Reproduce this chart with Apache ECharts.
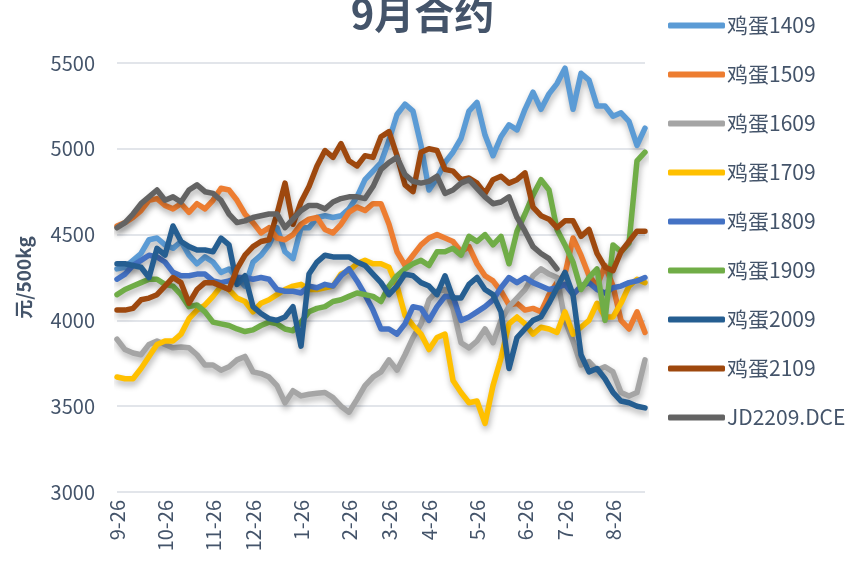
<!DOCTYPE html>
<html>
<head>
<meta charset="utf-8">
<script src="https://cdn.jsdelivr.net/npm/echarts@6/dist/echarts.min.js"></script>
<style>html,body{margin:0;padding:0;background:#fff;}#c{width:845px;height:565px;}</style>
</head>
<body>
<div id="c"></div>
<script>
const dates = ["9-26","10-1","10-6","10-11","10-16","10-21","10-26","11-1","11-6","11-11","11-16","11-21","11-26","12-2","12-8","12-14","12-20","12-26","12-31","1-6","1-11","1-16","1-21","1-26","1-31","2-5","2-10","2-15","2-20","2-26","3-2","3-8","3-14","3-20","3-26","4-1","4-7","4-13","4-19","4-26","5-1","5-6","5-11","5-16","5-21","5-26","5-31","6-5","6-10","6-15","6-20","6-26","7-2","7-8","7-14","7-20","7-26","7-31","8-5","8-10","8-15","8-20","8-26","8-31","9-5","9-10","9-15"];
const tickLabels = ["9-26","10-26","11-26","12-26","1-26","2-26","3-26","4-26","5-26","6-26","7-26","8-26"];
const seriesNames = ["鸡蛋1409","鸡蛋1509","鸡蛋1609","鸡蛋1709","鸡蛋1809","鸡蛋1909","鸡蛋2009","鸡蛋2109","JD2209.DCE"];
const colors = ["#5B9BD5","#ED7D31","#A5A5A5","#FFC000","#4472C4","#70AD47","#255E91","#9E480E","#636363"];

const jd1409 = [4300,4310,4350,4390,4470,4480,4440,4420,4460,4380,4330,4370,4340,4280,4300,4250,4200,4340,4380,4440,4540,4400,4360,4540,4540,4600,4610,4600,4610,4650,4720,4820,4870,4920,5050,5200,5260,5220,5020,4760,4830,4920,4980,5060,5220,5270,5080,4960,5070,5140,5110,5230,5330,5230,5320,5380,5470,5230,5440,5400,5250,5250,5190,5210,5160,5020,5120];
const jd1509 = [4550,4570,4600,4640,4700,4710,4670,4650,4680,4630,4680,4650,4700,4770,4760,4700,4620,4570,4510,4540,4480,4470,4500,4560,4590,4600,4530,4510,4560,4630,4660,4640,4680,4680,4560,4400,4320,4380,4440,4480,4500,4480,4460,4400,4430,4330,4260,4230,4170,4090,4100,4060,4070,4050,4150,4220,4270,4480,4380,4260,4200,4320,4200,4000,3950,4050,3930];
const jd1609 = [3890,3830,3810,3800,3860,3880,3860,3840,3845,3840,3800,3740,3740,3710,3730,3770,3790,3700,3690,3670,3620,3520,3590,3560,3570,3575,3580,3550,3500,3465,3540,3620,3670,3700,3770,3710,3800,3900,3980,4120,4170,4180,4070,3870,3840,3880,3950,3870,4000,4080,4130,4180,4260,4300,4270,4250,4000,3880,3740,3760,3710,3730,3700,3580,3560,3580,3770];
const jd1709 = [3670,3660,3660,3720,3790,3860,3880,3880,3920,4010,4060,4090,4140,4200,4180,4130,4110,4050,4100,4120,4150,4180,4200,4210,4180,4180,4190,4200,4270,4290,4330,4350,4330,4330,4310,4200,4030,3970,3920,3830,3900,3920,3650,3580,3520,3530,3400,3620,3780,3980,4020,3980,3920,3960,3950,3930,4050,3920,3960,4000,4100,4020,4020,4100,4200,4240,4220];
const jd1809 = [4240,4270,4320,4350,4380,4370,4340,4280,4260,4260,4270,4270,4230,4220,4230,4250,4250,4240,4250,4240,4180,4170,4170,4160,4200,4190,4210,4200,4260,4300,4230,4150,4060,3950,3950,3920,3980,4080,4070,4000,4080,4140,4140,4000,4020,4050,4080,4120,4190,4250,4220,4250,4220,4200,4180,4190,4210,4150,4200,4220,4180,4160,4190,4200,4220,4230,4250];
const jd1909 = [4150,4180,4200,4220,4240,4240,4210,4200,4150,4080,4090,4050,3990,3980,3970,3950,3935,3945,3970,3990,3980,3950,3940,3990,4050,4070,4080,4110,4120,4140,4160,4150,4140,4110,4200,4260,4300,4330,4350,4320,4400,4400,4420,4380,4490,4460,4500,4440,4490,4330,4520,4620,4730,4820,4760,4530,4440,4340,4180,4250,4300,4000,4440,4400,4450,4930,4980];
const jd2009 = [4330,4330,4320,4310,4250,4420,4380,4550,4460,4430,4410,4410,4400,4480,4440,4210,4260,4080,4040,4010,4000,4020,4080,3850,4270,4340,4380,4370,4370,4370,4340,4320,4270,4220,4150,4200,4270,4260,4220,4200,4150,4260,4130,4130,4210,4250,4180,4150,4050,3720,3900,3950,4000,4020,4100,4190,4280,4150,3800,3700,3720,3660,3580,3530,3520,3500,3490];
const jd2109 = [4060,4060,4070,4120,4130,4150,4200,4250,4220,4100,4180,4220,4220,4200,4180,4300,4380,4430,4460,4470,4620,4800,4560,4690,4780,4900,4990,4950,5030,4930,4900,4960,4950,5070,5100,4960,4790,4750,4980,5000,4990,4880,4870,4820,4830,4800,4740,4820,4840,4800,4820,4860,4660,4610,4590,4540,4580,4580,4490,4530,4390,4310,4290,4400,4460,4520,4520];
const jd2209 = [4540,4570,4620,4680,4720,4760,4700,4720,4690,4760,4790,4750,4740,4700,4620,4570,4580,4600,4610,4620,4620,4540,4590,4640,4670,4670,4650,4690,4710,4720,4720,4710,4780,4880,4920,4950,4850,4810,4800,4810,4840,4740,4760,4800,4820,4770,4720,4680,4690,4720,4600,4520,4430,4390,4360,4300];

const allData = [jd1409,jd1509,jd1609,jd1709,jd1809,jd1909,jd2009,jd2109,jd2209];
const txt = '#44546A';
const font = '"Noto Sans CJK SC","Noto Sans",sans-serif';

const chart = echarts.init(document.getElementById('c'), null, {renderer:'canvas'});
chart.setOption({
  animation: false,
  backgroundColor: '#fff',
  textStyle: {fontFamily: font},
  title: {
    text: '9月合约', left: 'center', top: -11,
    textStyle: {fontSize: 40, fontWeight: 'bold', color: txt, fontFamily: font}
  },
  legend: {
    orient: 'vertical', left: 663, top: 10, itemGap: 28,
    itemWidth: 57, itemHeight: 6, icon: 'roundRect',
    textStyle: {fontSize: 21, color: txt, fontFamily: font, padding: [0,0,0,-3]},
    data: seriesNames
  },
  grid: {left: 117, right: 200, top: 63, bottom: 73, containLabel: false},
  xAxis: {
    type: 'category', data: dates, boundaryGap: false,
    axisLine: {show: false}, axisTick: {show: false},
    splitLine: {show: false},
    axisLabel: {
      rotate: 90, margin: 8, fontSize: 20, color: txt, fontFamily: font,
      interval: (i, v) => tickLabels.includes(v)
    }
  },
  yAxis: {
    type: 'value', min: 3000, max: 5500, interval: 500,
    name: '元/500kg', nameLocation: 'middle', nameGap: 84, nameRotate: 90,
    nameTextStyle: {fontSize: 19, fontWeight: 'bold', color: txt, fontFamily: font},
    axisLine: {show: false}, axisTick: {show: false},
    axisLabel: {fontSize: 20, color: txt, margin: 22, fontFamily: font, formatter: v => String(v)},
    splitLine: {lineStyle: {color: '#D9DDE3', width: 1.5}}
  },
  series: seriesNames.map((n, k) => ({
    name: n, type: 'line', data: allData[k], showSymbol: false, symbol: 'none',
    color: colors[k],
    lineStyle: {width: 5.5, color: colors[k], cap: 'round', join: 'round',
      shadowColor: 'rgba(0,0,0,0.3)', shadowBlur: 6, shadowOffsetX: 1, shadowOffsetY: 4},
    emphasis: {disabled: true}
  }))
});
</script>
</body>
</html>
